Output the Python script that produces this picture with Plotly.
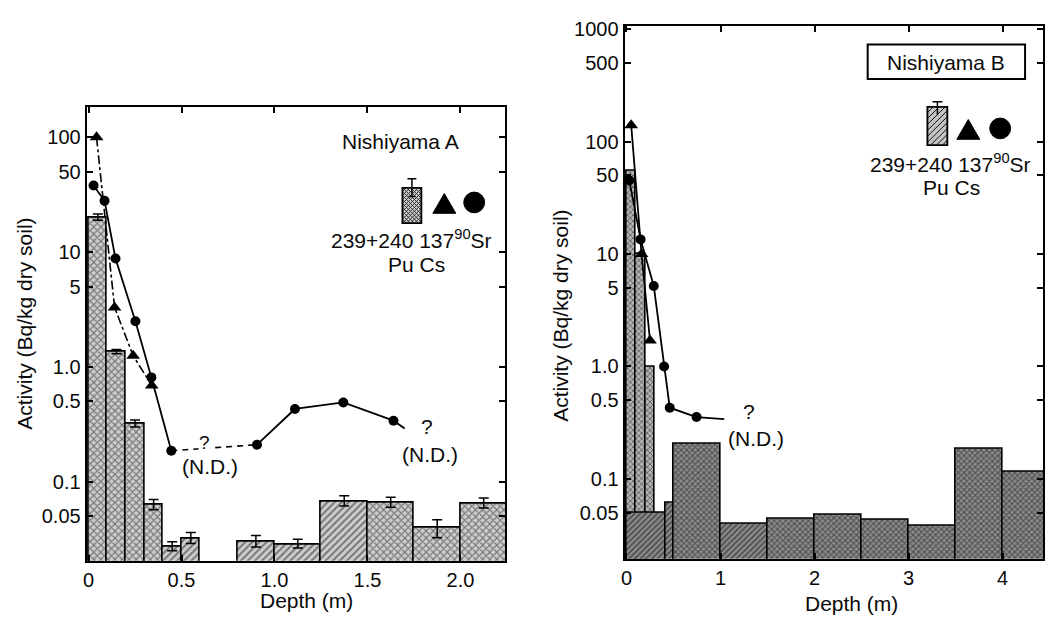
import plotly.graph_objects as go

# ---------------- data ----------------
# Nishiyama A : 239+240Pu per depth interval (m), Bq/kg dry soil
pu_a_top = [0.0, 0.1, 0.2, 0.3, 0.4, 0.5, 0.8, 1.0, 1.25, 1.5, 1.75, 2.0]
pu_a_bottom = [0.1, 0.2, 0.3, 0.4, 0.5, 0.6, 1.0, 1.25, 1.5, 1.75, 2.0, 2.25]
pu_a_value = [20.0, 1.35, 0.32, 0.063, 0.027, 0.032, 0.030, 0.0285, 0.0675, 0.066, 0.040, 0.064]
pu_a_err_up = [1.5, 0.07, 0.025, 0.007, 0.003, 0.004, 0.004, 0.003, 0.008, 0.007, 0.0065, 0.008]
pu_a_err_down = [1.0, 0.05, 0.02, 0.006, 0.002, 0.003, 0.003, 0.002, 0.006, 0.006, 0.0075, 0.005]
pu_a_fill = ["x", "x", "x", "x", "/", "/", "/", "/", "/", "x", "x", "x"]

# Nishiyama A : 137Cs
cs_a_depth = [0.043, 0.14, 0.24, 0.34]
cs_a_value = [100.0, 3.3, 1.25, 0.69]

# Nishiyama A : 90Sr (not detected between 0.45 m and 0.9 m, and below 1.7 m)
sr_a_depth = [0.027, 0.086, 0.145, 0.252, 0.338, 0.445, 0.906, 1.11, 1.37, 1.64]
sr_a_value = [38.0, 28.0, 8.8, 2.5, 0.81, 0.186, 0.21, 0.43, 0.49, 0.34]
sr_a_nd_after = 5          # index followed by the N.D. stretch
sr_a_tail = (1.70, 0.29)   # trailing segment end

# Nishiyama B : surface Pu samples
pu_b_surf_top = [0.0, 0.1, 0.2]
pu_b_surf_bottom = [0.1, 0.2, 0.3]
pu_b_surf_value = [55.0, 10.0, 1.0]

# Nishiyama B : deeper Pu samples
pu_b_top = [0.0, 0.42, 0.5, 1.0, 1.5, 2.0, 2.5, 3.0, 3.5, 4.0]
pu_b_bottom = [0.42, 0.5, 1.0, 1.5, 2.0, 2.5, 3.0, 3.5, 4.0, 4.5]
pu_b_value = [0.05, 0.062, 0.204, 0.040, 0.044, 0.048, 0.043, 0.038, 0.185, 0.115]
pu_b_fill = ["/", "/", "x", "/", "x", "x", "x", "x", "x", "x"]

# Nishiyama B : 137Cs and 90Sr
cs_b_depth = [0.05, 0.16, 0.25]
cs_b_value = [140.0, 10.0, 1.7]
sr_b_depth = [0.03, 0.15, 0.29, 0.40, 0.46, 0.745]
sr_b_value = [45.0, 13.5, 5.2, 1.0, 0.43, 0.355]
sr_b_tail = (1.04, 0.34)

# tick labels
ya_vals = [0.05, 0.1, 0.5, 1, 5, 10, 50, 100]
ya_text = ["0.05", "0.1", "0.5", "1.0", "5", "10", "50", "100"]
yb_vals = [0.05, 0.1, 0.5, 1, 5, 10, 50, 100, 500, 1000]
yb_text = ["0.05", "0.1", "0.5", "1.0", "5", "10", "50", "100", "500", "1000"]
xa_vals = [0, 0.5, 1.0, 1.5, 2.0]
xa_text = ["0", "0.5", "1.0", "1.5", "2.0"]
xb_vals = [0, 1, 2, 3, 4]
xb_text = ["0", "1", "2", "3", "4"]

# ---------------- layout helpers ----------------
W, H = 1045, 619
FONT = "Liberation Sans, Arial, Helvetica, sans-serif"
FS = 21
INK = "#0a0a0a"


def px(x):
    return x / W


def py(y):
    return 1 - y / H


def centers(tops, bottoms):
    return [(a + b) / 2 for a, b in zip(tops, bottoms)]


def widths(tops, bottoms):
    return [b - a for a, b in zip(tops, bottoms)]


fig = go.Figure()

LIGHT_BG, LIGHT_FG = "#cdcdcd", "#1e1e1e"
DARK_BG, DARK_FG = "#8c8c8c", "#0c0c0c"

# ---- panel A bars ----
fig.add_trace(go.Bar(
    x=centers(pu_a_top, pu_a_bottom), y=pu_a_value, width=widths(pu_a_top, pu_a_bottom),
    marker=dict(color=LIGHT_BG, line=dict(color="black", width=1.6),
                pattern=dict(shape=pu_a_fill, fgcolor=LIGHT_FG, bgcolor=LIGHT_BG,
                             size=5, solidity=0.4)),
    error_y=dict(type="data", symmetric=False, array=pu_a_err_up, arrayminus=pu_a_err_down,
                 color="black", thickness=1.5, width=5),
    xaxis="x", yaxis="y", showlegend=False))

# ---- panel A lines ----
line_kw = dict(color="black", width=1.8)
nd = sr_a_nd_after
fig.add_trace(go.Scatter(
    x=sr_a_depth[:nd + 1] + [None] + sr_a_depth[nd + 1:] + [sr_a_tail[0]],
    y=sr_a_value[:nd + 1] + [None] + sr_a_value[nd + 1:] + [sr_a_tail[1]],
    mode="lines", line=line_kw, connectgaps=False, xaxis="x", yaxis="y", showlegend=False))
fig.add_trace(go.Scatter(
    x=sr_a_depth[nd:nd + 2], y=sr_a_value[nd:nd + 2], mode="lines",
    line=dict(color="black", width=1.6, dash="6px,5px"), xaxis="x", yaxis="y", showlegend=False))
fig.add_trace(go.Scatter(
    x=sr_a_depth, y=sr_a_value, mode="markers",
    marker=dict(symbol="circle", size=10, color="black"), xaxis="x", yaxis="y", showlegend=False))
fig.add_trace(go.Scatter(
    x=cs_a_depth, y=cs_a_value, mode="lines+markers",
    line=dict(color="black", width=1.6, dash="dashdot"),
    marker=dict(symbol="triangle-up", size=12, color="black"), xaxis="x", yaxis="y", showlegend=False))

# ---- panel B bars ----
fig.add_trace(go.Bar(
    x=centers(pu_b_surf_top, pu_b_surf_bottom), y=pu_b_surf_value,
    width=widths(pu_b_surf_top, pu_b_surf_bottom),
    marker=dict(color="#b4b4b4", line=dict(color="black", width=1.6),
                pattern=dict(shape="x", fgcolor=DARK_FG, bgcolor="#b4b4b4", size=4, solidity=0.4)),
    xaxis="x2", yaxis="y2", showlegend=False))
fig.add_trace(go.Bar(
    x=centers(pu_b_top, pu_b_bottom), y=pu_b_value, width=widths(pu_b_top, pu_b_bottom),
    marker=dict(color=DARK_BG, line=dict(color="black", width=1.6),
                pattern=dict(shape=pu_b_fill, fgcolor=DARK_FG, bgcolor=DARK_BG, size=4, solidity=0.45)),
    xaxis="x2", yaxis="y2", showlegend=False))

# ---- panel B lines ----
fig.add_trace(go.Scatter(
    x=sr_b_depth + [sr_b_tail[0]], y=sr_b_value + [sr_b_tail[1]], mode="lines",
    line=line_kw, xaxis="x2", yaxis="y2", showlegend=False))
fig.add_trace(go.Scatter(
    x=sr_b_depth, y=sr_b_value, mode="markers",
    marker=dict(symbol="circle", size=10, color="black"), xaxis="x2", yaxis="y2", showlegend=False))
fig.add_trace(go.Scatter(
    x=cs_b_depth, y=cs_b_value, mode="lines+markers", line=line_kw,
    marker=dict(symbol="triangle-up", size=12, color="black"), xaxis="x2", yaxis="y2", showlegend=False))

# ---------------- axes ----------------
axis_common = dict(showline=True, linecolor="black", linewidth=2, mirror="ticks",
                   ticks="inside", ticklen=6, tickwidth=1.5, tickcolor="black",
                   showgrid=False, zeroline=False,
                   tickfont=dict(family=FONT, size=20, color=INK))

fig.update_layout(
    width=W, height=H, margin=dict(l=0, r=0, t=0, b=0),
    paper_bgcolor="white", plot_bgcolor="white", barmode="overlay", bargap=0,
    font=dict(family=FONT, size=FS, color=INK),
    xaxis=dict(axis_common, domain=[px(83), px(503)], range=[-0.01, 2.24], anchor="y",
               tickvals=xa_vals, ticktext=xa_text),
    yaxis=dict(axis_common, domain=[py(560), py(100)], type="log", range=[-1.689, 2.267],
               anchor="x", tickvals=ya_vals, ticktext=ya_text),
    xaxis2=dict(axis_common, domain=[px(623), px(1043)], range=[-0.02, 4.43], anchor="y2",
                tickvals=xb_vals, ticktext=xb_text),
    yaxis2=dict(axis_common, domain=[py(558), py(18)], type="log", range=[-1.71, 3.03],
                anchor="x2", tickvals=yb_vals, ticktext=yb_text),
)

# ---------------- text ----------------
ann = []


def text(x, y, s, size=FS, angle=0, bg=None):
    d = dict(x=px(x), y=py(y), xref="paper", yref="paper", text=s, showarrow=False,
             xanchor="center", yanchor="middle", textangle=angle,
             font=dict(family=FONT, size=size, color=INK))
    if bg:
        d.update(bgcolor=bg, borderpad=0)
    ann.append(d)


text(21, 320, "Activity (Bq/kg dry soil)", angle=-90)
text(559, 312, "Activity (Bq/kg dry soil)", angle=-90)
text(304, 600, "Depth (m)")
text(851, 603, "Depth (m)")

text(398, 135, "Nishiyama A")
text(946, 55, "Nishiyama B")

text(409, 234, "239+240 137<sup>90</sup>Sr")
text(414, 260, "Pu Cs")
text(950, 157, "239+240 137<sup>90</sup>Sr")
text(951, 182, "Pu Cs")

text(201, 440, "?", size=19, bg="white")
text(207, 464, "(N.D.)")
text(425, 424, "?")
text(428, 452, "(N.D.)")
text(748, 409, "?")
text(755, 436, "(N.D.)")

fig.update_layout(annotations=ann)

# ---------------- key symbols and frame around site name ----------------
shapes = []


def line(x0, y0, x1, y1, w=1.5, color="black"):
    shapes.append(dict(type="line", xref="paper", yref="paper",
                       x0=px(x0), y0=py(y0), x1=px(x1), y1=py(y1),
                       line=dict(color=color, width=w)))


def hatch(x0, y0, x1, y1, step, color):
    # "/" lines clipped to a rectangle (pixel coords, y down): x + y = const
    c = x0 + y0
    while c <= x1 + y1:
        xa, xb = max(x0, c - y1), min(x1, c - y0)
        if xa < xb:
            line(xa, c - xa, xb, c - xb, 1, color)
        c += step


def hatch_back(x0, y0, x1, y1, step, color):
    # "\" lines clipped to a rectangle: x - y = const
    c = x0 - y1
    while c <= x1 - y0:
        xa, xb = max(x0, c + y0), min(x1, c + y1)
        if xa < xb:
            line(xa, xa - c, xb, xb - c, 1, color)
        c += step


def rect(x0, y0, x1, y1, fill="rgba(0,0,0,0)", w=1.5):
    shapes.append(dict(type="rect", xref="paper", yref="paper",
                       x0=px(x0), y0=py(y0), x1=px(x1), y1=py(y1),
                       fillcolor=fill, line=dict(color="black", width=w)))


def triangle(cx, cy, w, h):
    p = (f"M {px(cx - w / 2)} {py(cy + h / 2)} L {px(cx + w / 2)} {py(cy + h / 2)} "
         f"L {px(cx)} {py(cy - h / 2)} Z")
    shapes.append(dict(type="path", xref="paper", yref="paper", path=p,
                       fillcolor="black", line=dict(color="black", width=1)))


def dot(cx, cy, r):
    shapes.append(dict(type="circle", xref="paper", yref="paper",
                       x0=px(cx - r), y0=py(cy + r), x1=px(cx + r), y1=py(cy - r),
                       fillcolor="black", line=dict(color="black", width=1)))


# panel A key
rect(400, 182, 419, 218, fill="#cfcfcf")
hatch(400, 182, 419, 218, 4, "#333")
hatch_back(400, 182, 419, 218, 4, "#333")
rect(400, 182, 419, 218)
line(409.5, 173, 409.5, 191)
line(405, 173, 414, 173)
line(406, 191, 413, 191)
triangle(442, 198, 23, 20)
dot(472, 197, 10.5)

# panel B key
rect(927, 100, 947, 139, fill="#c4c4c4")
hatch(927, 100, 947, 139, 6, "#111")
rect(927, 100, 947, 139)
line(937, 95, 937, 108)
line(932, 95, 942, 95)
triangle(968, 123, 23, 20)
dot(1000, 122, 10.5)

# frame around site B name
rect(867, 37, 1025, 72, w=2)

fig.update_layout(shapes=shapes)

fig.write_html("out.html")
